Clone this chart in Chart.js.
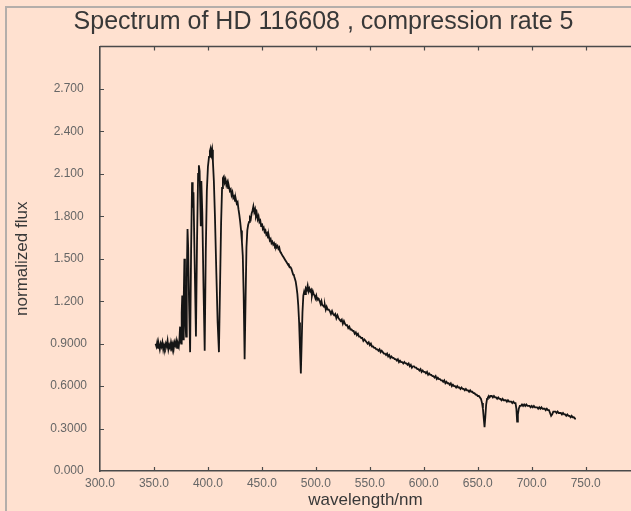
<!DOCTYPE html>
<html>
<head>
<meta charset="utf-8">
<script src="https://cdn.jsdelivr.net/npm/chart.js@4.4.1/dist/chart.umd.min.js"></script>
<style>
  html, body { margin: 0; padding: 0; background: #ffe1d0; }
  #wrap { width: 631px; height: 511px; position: relative; }
</style>
</head>
<body>
<div id="wrap"><canvas id="spectrum" width="631" height="511"></canvas></div>
<script>
// Wavelength samples (nm) and normalized flux of HD 116608
const wavelength = [
  351.5,352.3,353.0,353.8,354.6,355.4,356.2,357.0,357.8,358.6,
  359.4,360.2,361.0,361.8,362.6,363.4,364.2,365.0,365.8,366.6,
  367.4,368.2,369.0,369.8,370.6,371.4,372.2,373.0,373.6,374.2,
  374.7,375.2,375.7,376.2,376.7,377.1,377.6,378.2,378.7,379.3,
  379.8,380.4,381.1,381.7,382.5,383.5,384.4,385.3,385.9,386.6,
  387.6,388.9,389.9,390.9,391.6,392.3,392.9,393.4,393.9,394.8,
  395.9,397.0,398.0,399.0,400.0,401.0,401.8,402.5,403.2,403.9,
  404.6,405.5,406.5,407.8,409.0,410.2,411.2,412.2,413.1,413.9,
  414.7,415.5,416.3,417.1,417.9,418.7,419.5,420.3,421.1,421.9,
  422.7,423.5,424.3,425.1,425.9,426.7,427.5,428.3,429.1,429.9,
  430.7,431.5,432.3,433.1,434.0,434.9,435.7,436.5,437.3,438.1,
  438.9,439.7,440.5,441.3,442.1,442.9,443.7,444.5,445.3,446.1,
  446.9,447.7,448.5,449.3,450.1,450.9,451.7,452.5,453.3,454.1,
  454.9,455.7,456.5,457.3,458.1,458.9,459.7,460.5,461.3,462.1,
  462.9,463.7,464.5,465.3,466.1,466.9,467.7,468.5,469.3,470.1,
  470.9,471.7,472.5,473.3,474.1,474.9,475.7,476.5,477.3,478.1,
  478.9,479.7,480.5,481.3,482.1,482.9,483.7,484.5,485.3,486.1,
  486.9,487.6,488.4,489.2,490.0,490.8,491.6,492.4,493.2,494.0,
  494.8,495.6,496.4,497.2,498.0,498.8,499.6,500.4,501.2,502.0,
  502.8,503.6,504.4,505.2,506.0,506.8,507.6,508.4,509.2,510.0,
  511,512,513,514,515,516,517,518,519,520,
  521,522,523,524,525,526,527,528,529,530,
  531,532,533,534,535,536,537,538,539,540,
  541,542,543,544,545,546,547,548,549,550,
  551,552,553,554,555,556,557,558,559,560,
  561,562,563,564,565,566,567,568,569,570,
  571,572,573,574,575,576,577,578,579,580,
  581,582,583,584,585,586,587,588,589,590,
  591,592,593,594,595,596,597,598,599,600,
  601,602,603,604,605,606,607,608,609,610,
  611,612,613,614,615,616,617,618,619,620,
  621,622,623,624,625,626,627,628,629,630,
  631,632,633,634,635,636,637,638,639,640,
  641,642,643,644,645,646,647,648,649,650,
  651,652,653,654,654.8,655.6,656.3,657.0,657.8,658.6,
  659.4,660.2,661,662,663,664,665,666,667,668,
  669,670,671,672,673,674,675,676,677,678,
  679,680,681,682,683,684,685,685.8,686.5,687.2,
  688,689,690,691,692,693,694,695,696,697,
  698,699,700,701,702,703,704,705,706,707,
  708,709,710,711,712,713,714,715,716,717,
  718,719,720,721,722,723,724,725,726,727,
  728,729,730,731,732,733,734,735,736,737,
  738,739,740,741
];

const flux = [
  0.90,0.88,0.91,0.87,0.89,0.86,0.90,0.88,0.91,0.86,
  0.89,0.87,0.90,0.88,0.92,0.86,0.89,0.87,0.91,0.88,
  0.90,0.86,0.91,0.89,0.92,0.87,0.90,0.88,0.93,1.02,
  0.92,0.90,1.12,1.24,1.04,0.93,1.22,1.50,1.32,1.02,
  0.95,1.36,1.71,1.58,1.20,0.84,1.55,2.04,1.86,1.97,
  1.52,0.95,1.62,2.10,2.16,2.12,1.90,1.73,2.05,1.82,
  1.30,0.85,1.55,1.98,2.15,2.22,2.26,2.28,2.24,2.27,
  2.19,2.05,1.80,1.40,1.05,0.84,1.30,1.75,2.00,2.07,
  2.08,2.04,2.06,2.02,2.04,2.00,2.01,1.98,1.99,1.95,
  1.97,1.93,1.94,1.91,1.92,1.89,1.90,1.85,1.81,1.76,
  1.70,1.62,1.52,1.25,0.79,1.22,1.58,1.70,1.74,1.76,
  1.79,1.78,1.82,1.84,1.87,1.83,1.85,1.80,1.82,1.78,
  1.80,1.76,1.77,1.73,1.75,1.71,1.72,1.69,1.70,1.67,
  1.68,1.65,1.66,1.63,1.64,1.61,1.62,1.60,1.61,1.59,
  1.60,1.58,1.59,1.57,1.58,1.55,1.54,1.53,1.52,1.51,
  1.50,1.49,1.48,1.47,1.46,1.46,1.44,1.44,1.43,1.41,
  1.39,1.38,1.36,1.34,1.30,1.25,1.17,1.05,0.86,0.69,
  0.92,1.12,1.24,1.27,1.25,1.29,1.28,1.31,1.27,1.29,
  1.27,1.28,1.24,1.27,1.25,1.24,1.22,1.24,1.21,1.22,
  1.21,1.20,1.18,1.20,1.17,1.17,1.16,1.17,1.14,1.16,
  1.14,1.14,1.13,1.11,1.13,1.11,1.10,1.11,1.08,1.10,
  1.08,1.07,1.06,1.07,1.04,1.06,1.04,1.03,1.03,1.01,
  1.02,1.00,1.00,0.99,0.99,0.97,0.98,0.96,0.97,0.95,
  0.95,0.94,0.94,0.92,0.93,0.92,0.91,0.90,0.91,0.89,
  0.90,0.88,0.88,0.87,0.87,0.86,0.86,0.85,0.86,0.84,
  0.85,0.84,0.83,0.83,0.82,0.83,0.81,0.82,0.80,0.81,
  0.80,0.80,0.79,0.79,0.78,0.79,0.77,0.78,0.77,0.77,
  0.76,0.77,0.76,0.76,0.75,0.76,0.74,0.75,0.73,0.74,
  0.74,0.73,0.73,0.72,0.72,0.71,0.72,0.70,0.71,0.70,
  0.70,0.69,0.70,0.68,0.69,0.68,0.68,0.67,0.67,0.66,
  0.67,0.65,0.66,0.65,0.65,0.64,0.64,0.63,0.64,0.62,
  0.63,0.62,0.62,0.61,0.62,0.60,0.61,0.60,0.60,0.59,
  0.60,0.59,0.59,0.58,0.59,0.58,0.58,0.57,0.58,0.57,
  0.57,0.56,0.57,0.56,0.56,0.55,0.55,0.54,0.54,0.53,
  0.53,0.52,0.51,0.48,0.44,0.37,0.31,0.38,0.47,0.51,
  0.52,0.53,0.52,0.53,0.53,0.52,0.53,0.52,0.52,0.51,
  0.52,0.51,0.51,0.50,0.51,0.50,0.50,0.50,0.49,0.50,
  0.49,0.49,0.49,0.48,0.49,0.48,0.48,0.44,0.35,0.40,
  0.44,0.46,0.46,0.47,0.46,0.47,0.46,0.47,0.46,0.46,
  0.46,0.45,0.46,0.45,0.46,0.45,0.45,0.45,0.44,0.45,
  0.44,0.45,0.44,0.44,0.44,0.43,0.44,0.43,0.43,0.41,
  0.39,0.40,0.42,0.42,0.42,0.41,0.42,0.41,0.41,0.41,
  0.40,0.41,0.40,0.40,0.39,0.40,0.39,0.39,0.38,0.39,
  0.38,0.38,0.37,0.37
];

// Axis ticks and their printed labels
const xTickValues = [300, 350, 400, 450, 500, 550, 600, 650, 700, 750];
const xTickLabels = ['300.0','350.0','400.0','450.0','500.0','550.0','600.0','650.0','700.0','750.0'];
const yTickValues = [0, 0.3, 0.6, 0.9, 1.2, 1.5, 1.8, 2.1, 2.4, 2.7];
const yTickLabels = ['0.000','0.3000','0.6000','0.9000','1.200','1.500','1.800','2.100','2.400','2.700'];

const FONT = '"Liberation Sans", Arial, Helvetica, sans-serif';
const PAGE_BG = '#ffe1d0';
const AXIS_COLOR = '#4a4a4a';

// Page background and the outer panel edge
const panelPlugin = {
  id: 'panel',
  beforeDraw(chart) {
    const { ctx, width, height } = chart;
    ctx.save();
    ctx.fillStyle = PAGE_BG;
    ctx.fillRect(0, 0, width, height);
    ctx.strokeStyle = '#b4aeaa';
    ctx.lineWidth = 2;
    ctx.beginPath();
    ctx.moveTo(6, height);
    ctx.lineTo(6, 7);
    ctx.lineTo(width, 7);
    ctx.stroke();
    ctx.restore();
  }
};

// Top frame line and short inward tick marks on the bottom, top and left edges
const frameTicksPlugin = {
  id: 'frameTicks',
  afterDraw(chart) {
    const { ctx, chartArea: a, scales } = chart;
    const x = scales.x, y = scales.y;
    ctx.save();
    ctx.strokeStyle = AXIS_COLOR;
    ctx.lineWidth = 1.5;
    ctx.beginPath();
    ctx.moveTo(a.left, a.top);
    ctx.lineTo(a.right, a.top);
    ctx.stroke();
    ctx.lineWidth = 1.2;
    ctx.beginPath();
    xTickValues.forEach(v => {
      const px = Math.round(x.getPixelForValue(v)) + 0.5;
      if (v !== x.min) {
        ctx.moveTo(px, a.bottom);
        ctx.lineTo(px, a.bottom - 4);
        ctx.moveTo(px, a.top);
        ctx.lineTo(px, a.top + 4);
      }
    });
    yTickValues.forEach(v => {
      if (v === y.min) return;
      const py = Math.round(y.getPixelForValue(v)) + 0.5;
      ctx.moveTo(a.left, py);
      ctx.lineTo(a.left + 4, py);
    });
    ctx.stroke();
    ctx.restore();
  }
};

new Chart(document.getElementById('spectrum'), {
  type: 'line',
  data: {
    datasets: [{
      data: wavelength.map((w, i) => ({ x: w, y: flux[i] })),
      borderColor: '#151515',
      borderWidth: 1.8,
      pointRadius: 0,
      tension: 0,
      fill: false
    }]
  },
  options: {
    responsive: false,
    animation: false,
    devicePixelRatio: 1,
    layout: { padding: { left: 16, top: 0, right: 0, bottom: 0 } },
    plugins: {
      legend: { display: false },
      tooltip: { enabled: false },
      title: {
        display: true,
        text: 'Spectrum of HD 116608 , compression rate 5',
        color: '#383838',
        font: { family: FONT, size: 25, weight: 'normal' },
        padding: { top: 7, bottom: 9.5 }
      }
    },
    scales: {
      x: {
        type: 'linear',
        min: 300,
        max: 792,
        afterBuildTicks: s => { s.ticks = xTickValues.map(v => ({ value: v })); },
        afterFit: s => { s.height = 40; },
        grid: { display: false, drawTicks: false },
        border: { display: true, color: AXIS_COLOR, width: 1.6 },
        ticks: {
          autoSkip: false,
          maxRotation: 0,
          padding: 5,
          color: '#666',
          font: { family: FONT, size: 12 },
          callback: (v, i) => xTickLabels[i]
        },
        title: {
          display: true,
          text: 'wavelength/nm',
          color: '#383838',
          font: { family: FONT, size: 17 },
          padding: { top: 0, bottom: 0 }
        }
      },
      y: {
        type: 'linear',
        min: 0,
        max: 3.0,
        afterBuildTicks: s => { s.ticks = yTickValues.map(v => ({ value: v })); },
        afterFit: s => { s.width = 84; },
        grid: { display: false, drawTicks: false },
        border: { display: true, color: AXIS_COLOR, width: 1.6 },
        ticks: {
          autoSkip: false,
          padding: 13,
          crossAlign: 'center',
          color: '#666',
          font: { family: FONT, size: 12 },
          callback: (v, i) => yTickLabels[i]
        },
        title: {
          display: true,
          text: 'normalized flux',
          color: '#383838',
          font: { family: FONT, size: 17 },
          padding: { top: -4, bottom: 0 }
        }
      }
    }
  },
  plugins: [panelPlugin, frameTicksPlugin]
});
</script>
</body>
</html>
